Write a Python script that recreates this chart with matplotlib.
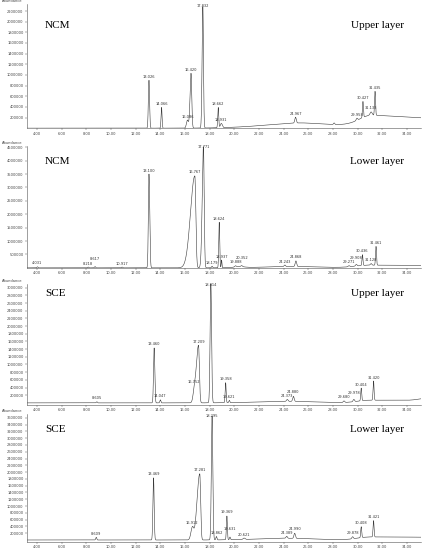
import numpy as np
import matplotlib.pyplot as plt

plt.rcParams["font.family"] = ["DejaVu Sans"]

# ---- peak tables: retention time, height, left width, right width, label ----
# NCM upper layer
p1_rt = [13.08, 14.10, 16.20, 16.49, 17.45, 18.70, 18.95, 24.97, 28.10, 29.95, 30.44, 31.10, 31.42]
p1_h = [900000, 390000, 150000, 1030000, 2280000, 380000, 80000, 110000, 30000, 40000, 300000, 60000, 450000]
p1_sl = [0.05, 0.04, 0.08, 0.08, 0.06, 0.04, 0.08, 0.06, 0.05, 0.06, 0.04, 0.08, 0.04]
p1_sr = [0.05, 0.04, 0.08, 0.06, 0.05, 0.04, 0.08, 0.06, 0.05, 0.06, 0.04, 0.08, 0.04]
p1_lab = ["13.026", "14.066", "16.086", "16.420", "17.832", "18.662", "18.931", "24.967", "",
          "29.958", "30.427", "31.133", "31.435"]
p1_base_rt = [25.0, 28.5, 31.2]
p1_base_h = [60000, 60000, 200000]
p1_base_sl = [3.0, 3.5, 1.0]
p1_base_sr = [1.5, 3.5, 10.0]

# NCM lower layer
p2_rt = [4.03, 8.15, 8.70, 10.90, 13.08, 16.80, 17.50, 18.20, 18.78, 18.97, 20.10, 20.60,
         24.10, 25.00, 29.30, 29.90, 30.40, 31.10, 31.50]
p2_h = [40000, 30000, 50000, 30000, 3500000, 3430000, 4520000, 60000, 1700000, 290000, 40000, 40000,
        60000, 210000, 40000, 60000, 400000, 60000, 700000]
p2_sl = [0.04, 0.04, 0.04, 0.04, 0.05, 0.35, 0.10, 0.04, 0.04, 0.03, 0.06, 0.06,
         0.06, 0.06, 0.06, 0.06, 0.04, 0.06, 0.04]
p2_sr = [0.04, 0.04, 0.04, 0.04, 0.06, 0.08, 0.06, 0.04, 0.04, 0.03, 0.06, 0.06,
         0.06, 0.06, 0.06, 0.06, 0.04, 0.06, 0.04]
p2_lab = ["4.031", "8.218", "8.617", "10.917", "13.100", "16.767", "17.771", "18.179", "18.624", "18.937",
          "19.888", "20.352", "24.243", "24.868", "29.271", "29.908", "30.436", "31.128", "31.461"]
p2_base_rt = [20.4, 25.0, 31.0]
p2_base_h = [40000, 50000, 100000]
p2_base_sl = [0.4, 2.5, 1.2]
p2_base_sr = [0.4, 2.0, 10.0]

# SCE upper layer
p3_rt = [8.85, 13.50, 14.00, 16.75, 17.10, 18.10, 19.30, 19.60, 24.30, 24.80,
         28.90, 29.70, 30.30, 31.30]
p3_h = [30000, 1430000, 80000, 230000, 1500000, 3100000, 520000, 60000, 50000, 130000,
        40000, 60000, 330000, 500000]
p3_sl = [0.04, 0.05, 0.04, 0.10, 0.18, 0.06, 0.04, 0.04, 0.06, 0.06, 0.06, 0.06, 0.04, 0.04]
p3_sr = [0.04, 0.05, 0.04, 0.10, 0.07, 0.06, 0.04, 0.04, 0.06, 0.06, 0.06, 0.06, 0.04, 0.04]
p3_lab = ["8.605", "13.460", "14.047", "16.752", "17.209", "18.814", "19.358", "19.621", "24.373", "24.880",
          "29.680", "29.978", "30.404", "31.420"]
p3_base_rt = [24.5, 31.0, 35.5]
p3_base_h = [40000, 70000, 50000]
p3_base_sl = [2.5, 1.0, 0.6]
p3_base_sr = [2.0, 10.0, 0.6]

# SCE lower layer
p4_rt = [8.80, 13.45, 16.60, 17.20, 18.20, 18.55, 19.40, 19.65, 20.80, 24.25, 24.90,
         29.60, 30.30, 31.30]
p4_h = [80000, 1830000, 350000, 1950000, 3650000, 100000, 700000, 80000, 40000, 60000, 150000,
        60000, 320000, 480000]
p4_sl = [0.04, 0.05, 0.12, 0.22, 0.06, 0.04, 0.04, 0.04, 0.08, 0.06, 0.06, 0.06, 0.04, 0.04]
p4_sr = [0.04, 0.05, 0.10, 0.07, 0.06, 0.04, 0.04, 0.04, 0.08, 0.06, 0.06, 0.06, 0.04, 0.04]
p4_lab = ["8.609", "13.469", "16.912", "17.281", "18.295", "18.862", "19.369", "19.631", "20.621",
          "24.389", "24.990", "29.878", "30.408", "31.421"]
p4_base_rt = [24.5, 31.0]
p4_base_h = [50000, 90000]
p4_base_sl = [2.5, 1.0]
p4_base_sr = [2.0, 10.0]

sample_names = ["NCM", "NCM", "SCE", "SCE"]
layer_names = ["Upper layer", "Lower layer", "Upper layer", "Lower layer"]
y_tops = [2330000, 4550000, 3100000, 3710000]
y_bots = [0, 0, -50000, -60000]
y_steps = [200000, 500000, 200000, 200000]
y_maxtick = [2200000, 4500000, 3000000, 3600000]

# axes rectangles in figure fractions
rects = [[0.064, 0.767, 0.931, 0.2255],
         [0.064, 0.513, 0.931, 0.2218],
         [0.064, 0.264, 0.931, 0.220],
         [0.064, 0.0145, 0.931, 0.2327]]
name_y = [25, 161, 294, 430]

peaks = [(p1_rt, p1_h, p1_sl, p1_sr, p1_lab),
         (p2_rt, p2_h, p2_sl, p2_sr, p2_lab),
         (p3_rt, p3_h, p3_sl, p3_sr, p3_lab),
         (p4_rt, p4_h, p4_sl, p4_sr, p4_lab)]
bases = [(p1_base_rt, p1_base_h, p1_base_sl, p1_base_sr),
         (p2_base_rt, p2_base_h, p2_base_sl, p2_base_sr),
         (p3_base_rt, p3_base_h, p3_base_sl, p3_base_sr),
         (p4_base_rt, p4_base_h, p4_base_sl, p4_base_sr)]

t = np.linspace(3.19, 35.14, 12000)


def agauss(t, rt, h, sl, sr):
    s = np.where(t < rt, sl, sr)
    return h * np.exp(-(t - rt) ** 2 / (2 * s ** 2))


fig = plt.figure(figsize=(4.23, 5.5), dpi=100)

for k in range(4):
    ax = fig.add_axes(rects[k])
    rt, h, sl, sr, lab = peaks[k]
    brt, bh, bsl, bsr = bases[k]
    base = np.zeros_like(t)
    for i in range(len(brt)):
        base += agauss(t, brt[i], bh[i], bsl[i], bsr[i])
    sig = base.copy()
    for i in range(len(rt)):
        sig += agauss(t, rt[i], h[i], sl[i], sr[i])
    ax.plot(t, sig, color="#3a3a3a", lw=0.4)

    # peak labels, nudged upward when two would collide, kept inside the panel
    span = y_tops[k] - y_bots[k]
    lab_h = span * 4.2 / (rects[k][3] * 550)
    placed = []
    for i in range(len(rt)):
        if lab[i] == "":
            continue
        y = np.interp(rt[i], t, sig) + span * 0.012
        for (px, py) in placed:
            if abs(px - rt[i]) < 1.15 and abs(py - y) < lab_h:
                y = py + lab_h
        y = min(y, y_tops[k] - lab_h * 0.85)
        placed.append((rt[i], y))
        ax.text(rt[i], y, lab[i], fontsize=2.6,
                ha="center", va="bottom", color="#333333", clip_on=False)

    ax.set_xlim(3.19, 35.14)
    ax.set_ylim(y_bots[k], y_tops[k])
    ax.set_xticks(np.arange(4, 35, 2))
    ax.set_xticklabels(["%.2f" % v for v in np.arange(4, 35, 2)])
    yt = np.arange(y_steps[k], y_maxtick[k] + 1, y_steps[k])
    ax.set_yticks(yt)
    ax.set_yticklabels(["%d" % v for v in yt])
    ax.tick_params(labelsize=2.6, length=1.5, width=0.3, pad=1, colors="#444444")
    for side in ["top", "right"]:
        ax.spines[side].set_visible(False)
    for side in ["left", "bottom"]:
        ax.spines[side].set_linewidth(0.4)
        ax.spines[side].set_color("#555555")
    ax.patch.set_alpha(0)

    # "Abundance" caption at top left
    fig.text(2 / 423, rects[k][1] + rects[k][3] + 0.002, "Abundance", fontsize=2.6,
             color="#444444", ha="left", va="bottom")
    fig.text(45 / 423, 1 - name_y[k] / 550, sample_names[k], fontsize=8,
             family=["Liberation Serif", "DejaVu Serif"], ha="left", va="center")
    fig.text(404 / 423, 1 - name_y[k] / 550, layer_names[k], fontsize=8,
             family=["Liberation Serif", "DejaVu Serif"], ha="right", va="center")

plt.savefig("out.png", dpi=100)
